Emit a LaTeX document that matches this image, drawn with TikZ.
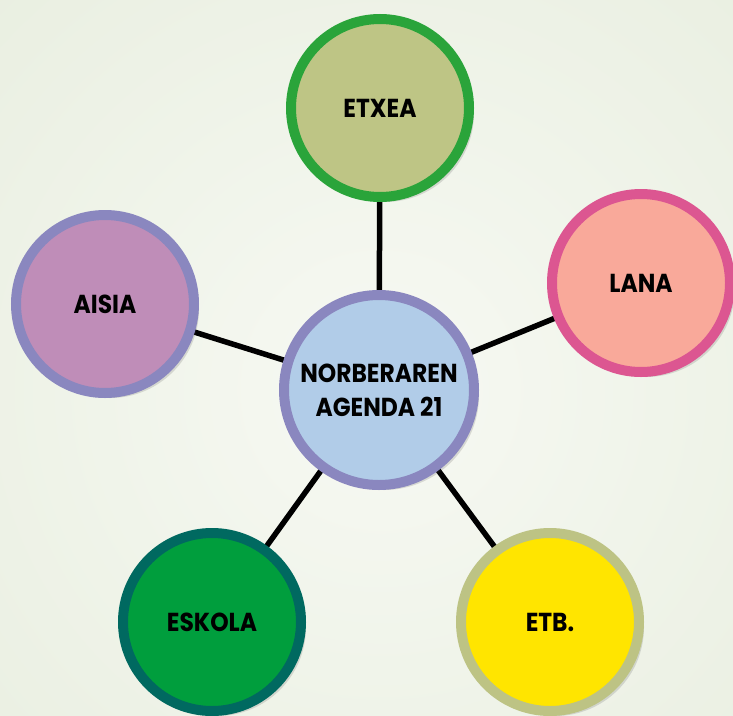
\documentclass[tikz,border=0pt]{standalone}
\usepackage{fontspec}
\setmainfont{Poppins}[FakeStretch=0.9]
\usetikzlibrary{shadows}
\definecolor{bgout}{HTML}{E1E9D6}
\definecolor{bgin}{HTML}{F7F9F3}
\definecolor{hubdraw}{HTML}{8A87BF}
\definecolor{hubfill}{HTML}{B1CCE8}
\definecolor{etxdraw}{HTML}{2AA43A}
\definecolor{etxfill}{HTML}{BEC585}
\definecolor{landraw}{HTML}{DC5691}
\definecolor{lanfill}{HTML}{F9A99A}
\definecolor{aisdraw}{HTML}{8A87BF}
\definecolor{aisfill}{HTML}{BF8DB8}
\definecolor{eskdraw}{HTML}{006960}
\definecolor{eskfill}{HTML}{009E3D}
\definecolor{etbdraw}{HTML}{BDC384}
\definecolor{etbfill}{HTML}{FFE500}
\pgfdeclarelayer{bglayer}
\pgfdeclarelayer{linklayer}
\pgfsetlayers{bglayer,linklayer,main}
\tikzset{
  labelfont/.style={font=\fontsize{26}{34}\selectfont\bfseries},
  softshadow/.style={drop shadow={shadow xshift=5pt, shadow yshift=-5pt, opacity=0.18, fill=black!70}},
  hub/.style={circle, line width=10pt, minimum size=190pt, inner sep=0pt, align=center, labelfont, softshadow},
  leaf/.style={circle, line width=10pt, minimum size=178pt, inner sep=0pt, align=center, labelfont, softshadow},
  link/.style={line width=5.5pt, black}
}
\begin{document}
\begin{tikzpicture}[x=1pt,y=-1pt]
\useasboundingbox (0,0) rectangle (733,715);
\begin{pgfonlayer}{bglayer}
  \clip (0,0) rectangle (733,715);
  \shade[inner color=bgin, outer color=bgout] (-520,-510) rectangle (1280,1290);
\end{pgfonlayer}
\node[hub, draw=hubdraw, fill=hubfill] (hub) at (379,390) {NORBERAREN\\AGENDA 21};
\node[leaf, draw=etxdraw, fill=etxfill] (etxea) at (380,108) {ETXEA};
\node[leaf, draw=landraw, fill=lanfill] (lana) at (641,283) {LANA};
\node[leaf, draw=aisdraw, fill=aisfill] (aisia) at (105,304) {AISIA};
\node[leaf, draw=eskdraw, fill=eskfill] (eskola) at (212,622) {ESKOLA};
\node[leaf, draw=etbdraw, fill=etbfill] (etb) at (550,622) {ETB.};
\begin{pgfonlayer}{linklayer}
  \draw[link] (hub.center) -- (etxea.center);
  \draw[link] (hub.center) -- (lana.center);
  \draw[link] (hub.center) -- (aisia.center);
  \draw[link] (hub.center) -- (eskola.center);
  \draw[link] (hub.center) -- (etb.center);
\end{pgfonlayer}
\end{tikzpicture}
\end{document}
